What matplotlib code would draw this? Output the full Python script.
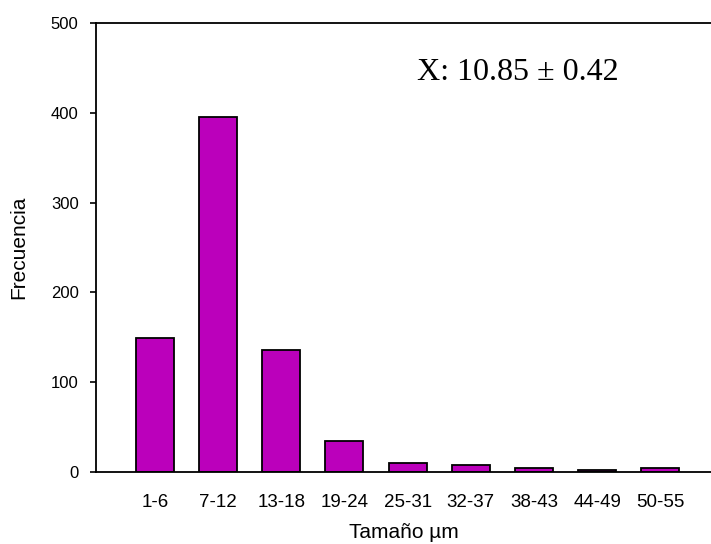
import matplotlib
matplotlib.use("Agg")
import matplotlib.pyplot as plt

# histogram of particle sizes
categories = ["1-6", "7-12", "13-18", "19-24", "25-31", "32-37", "38-43", "44-49", "50-55"]
frequencies = [149, 395, 136, 35, 10, 8, 4, 2, 4]
y_ticks = [0, 100, 200, 300, 400, 500]
annotation = "X: 10.85 \u00b1 0.42"

plt.rcParams['font.family'] = ['Liberation Sans', 'DejaVu Sans']

fig = plt.figure(figsize=(7.11, 5.44), dpi=100)
ax = fig.add_axes([0.135, 0.1324, 0.865, 0.8253])

x = list(range(len(categories)))
ax.bar(x, frequencies, width=0.6, color="#BB00BB", edgecolor="black", linewidth=1.3)

ax.set_xlim(-0.93, 8.8)
ax.set_ylim(0, 500)

# labels on every category, tick marks on every other one
ax.set_xticks(x)
ax.set_xticklabels(categories, fontsize=13.5)
ax.tick_params(axis="x", which="major", length=0, pad=15.5)
ax.set_xticks(x[1::2], minor=True)
ax.tick_params(axis="x", which="minor", length=4.5, width=1.2, direction="out")

ax.set_yticks(y_ticks)
ax.tick_params(axis="y", length=4.5, width=1.2, direction="out", labelsize=12, pad=8)

for side in ["left", "bottom", "top"]:
    ax.spines[side].set_linewidth(1.3)
ax.spines["right"].set_visible(False)

ax.set_ylabel("Frecuencia", fontsize=15)
ax.yaxis.set_label_coords(-0.11, 0.5)
ax.set_xlabel("Tamaño µm", fontsize=15)
ax.xaxis.set_label_coords(0.5, -0.113)

ax.text(0.522, 0.889, annotation, transform=ax.transAxes, ha="left", va="center",
        fontsize=23, family=["Liberation Serif", "DejaVu Serif"])

fig.savefig("out.png", dpi=100)
